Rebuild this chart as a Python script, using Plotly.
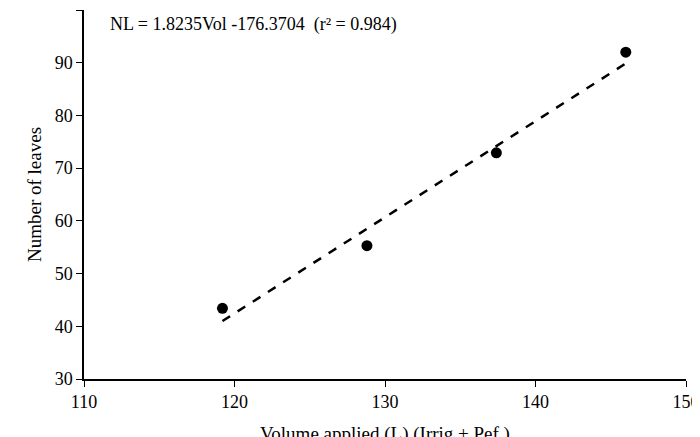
import plotly.graph_objects as go

volume = [119.2, 128.8, 137.4, 146.0]
leaves = [43.4, 55.3, 72.9, 92.0]
slope, intercept = 1.8235, -176.3704
fit_x = [min(volume), max(volume)]
fit_y = [slope * v + intercept for v in fit_x]

fig = go.Figure()
fig.add_trace(go.Scatter(x=fit_x, y=fit_y, mode="lines",
                         line=dict(color="black", width=2.5, dash="dash")))
fig.add_trace(go.Scatter(x=volume, y=leaves, mode="markers",
                         marker=dict(color="black", size=11)))

fig.add_annotation(x=0.04, y=0.995, xref="paper", yref="paper", xanchor="left", yanchor="top",
                   text="NL = 1.8235Vol -176.3704  (r² = 0.984)", showarrow=False,
                   font=dict(size=18, color="black"))

axis = dict(showgrid=False, zeroline=False, showline=True, linecolor="black", linewidth=1.5,
            ticks="outside", ticklen=6, tickcolor="black", tickfont=dict(size=18, color="black"))
fig.update_xaxes(range=[110, 150], dtick=10, title=dict(text="Volume applied (L) (Irrig + Pef.)",
                 font=dict(size=19, color="black")), **axis)
fig.update_yaxes(range=[30, 100], dtick=10, title=dict(text="Number of leaves",
                 font=dict(size=19, color="black"), standoff=8), **axis)
fig.update_layout(width=700, height=437, showlegend=False, plot_bgcolor="white", paper_bgcolor="white",
                  font=dict(family="Liberation Serif", color="black"),
                  margin=dict(l=76, r=22, t=2, b=66, autoexpand=False))
fig.write_html("out.html")
